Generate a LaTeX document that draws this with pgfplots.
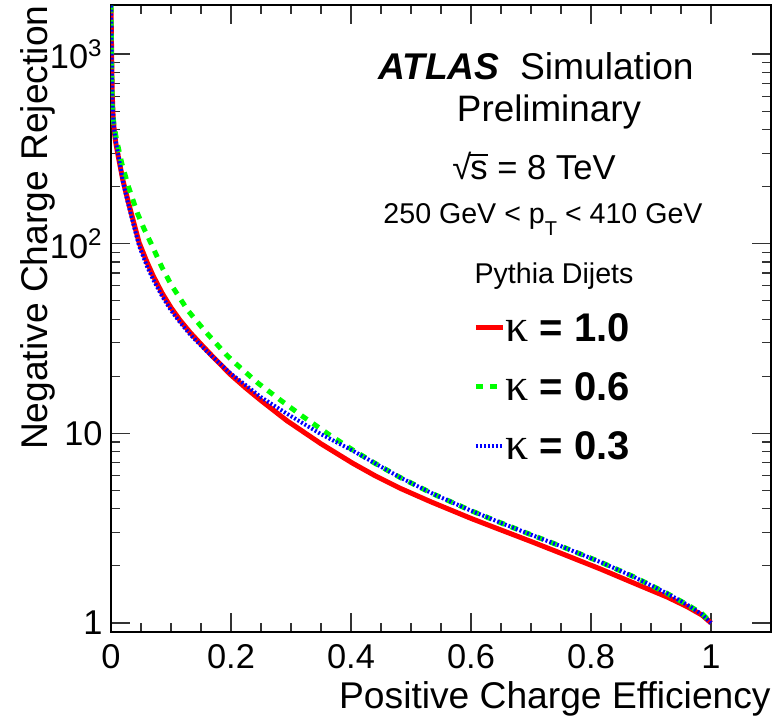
\documentclass[border=0pt]{standalone}
\usepackage{pgfplots}
\pgfplotsset{compat=1.18}
\usepackage{fontspec}
\setmainfont{Liberation Sans}
\newfontfamily\grk{Liberation Serif}
\newcommand\kap{{\fontsize{23}{24}\selectfont\grk κ}}
\begin{document}
\begin{tikzpicture}
\path[use as bounding box] (-55.5pt,-43pt) rectangle (331.5pt,316pt);
\begin{axis}[
  at={(0pt,0pt)}, anchor=south west,
  scale only axis, width=330pt, height=313.5pt,
  xmin=0, xmax=1.1, ymode=log, ymin=0.896, ymax=1815,
  xtick={0,0.2,0.4,0.6,0.8,1},
  xticklabels={0,0.2,0.4,0.6,0.8,1},
  minor x tick num=3,
  ytick={1,10,100,1000},
  yticklabels={1,10,10\textsuperscript{2},10\textsuperscript{3}},
  xtick pos=both, ytick pos=both,
  xticklabel pos=lower, yticklabel pos=left,
  tick align=inside,
  major tick length=9.5pt, minor tick length=4.5pt,
  every tick/.style={black!80, line width=0.6pt},
  axis line style={black, line width=1pt},
  /pgf/number format/assume math mode=true,
  ticklabel style={font=\fontsize{17.2}{20}\selectfont},
  xticklabel style={anchor=base, yshift=-18pt, inner sep=0pt},
  yticklabel style={anchor=east, inner sep=0pt, xshift=-4pt},
  xlabel={Positive Charge Efficiency},
  ylabel={Negative Charge Rejection},
  label style={font=\fontsize{18.6}{22}\selectfont},
  xlabel style={at={(rel axis cs:1,0)}, anchor=base east, yshift=-38pt, inner sep=0pt},
  ylabel style={at={([xshift=-31.5pt]rel axis cs:0,1)}, anchor=base east, inner sep=0pt},
  legend style={at={(rel axis cs:0.5485,0.5072)}, anchor=north west, draw=none, fill=none,
    font=\fontsize{20}{22}\selectfont, inner sep=0pt, row sep=16pt,
    nodes={inner sep=0pt, text height=13.5pt, text depth=0pt},
    /tikz/every even column/.append style={column sep=3.5pt}},
  legend cell align=left,
  legend image code/.code={\draw[#1] (0pt,0pt) -- (13.5pt,0pt);},
]
\addplot[red, line width=2.5pt] coordinates {
(0,1750) (0.001,1040) (0.002,620) (0.0035,470) (0.0055,390) (0.008,340) (0.012,290)
(0.02,215) (0.028,170) (0.035,140) (0.047,101) (0.06,80) (0.07,68) (0.085,55) (0.1,46)
(0.115,39.5) (0.132,34) (0.15,29.5) (0.17,25.3) (0.2,20.3) (0.225,17.3) (0.25,14.9)
(0.293,11.67) (0.35,8.81) (0.403,6.95) (0.44,5.98) (0.482,5.13) (0.532,4.37) (0.6,3.56)
(0.648,3.11) (0.7,2.69) (0.75,2.33) (0.815,1.93) (0.87,1.63) (0.927,1.37) (0.96,1.22)
(0.985,1.1) (1.0,1.0)
};
\addlegendentry{\kap\ \textbf{= 1.0}}
\addplot[green, line width=2.5pt, dash pattern=on 3.5pt off 3.5pt] coordinates {
(0,1800) (0.001,900) (0.002,540) (0.005,420) (0.0095,350) (0.018,265) (0.029,200)
(0.044,145) (0.055,120) (0.067,100) (0.085,75) (0.1,61) (0.128,44.5) (0.157,34.5)
(0.193,25.8) (0.21,23) (0.245,18.4) (0.282,15) (0.32,12.25) (0.365,9.77) (0.403,8.17)
(0.44,6.95) (0.482,5.85) (0.537,4.79) (0.6,3.91) (0.648,3.39) (0.7,2.92) (0.75,2.54)
(0.815,2.10) (0.87,1.76) (0.927,1.43) (0.96,1.25) (0.985,1.12) (1.0,1.0)
};
\addlegendentry{\kap\ \textbf{= 0.6}}
\addplot[blue, line width=2pt, dash pattern=on 1pt off 1pt] coordinates {
(0,1800) (0.001,1000) (0.002,600) (0.0035,470) (0.0055,395) (0.008,345) (0.012,295)
(0.02,212) (0.028,165) (0.035,135) (0.047,97) (0.06,76) (0.07,65) (0.085,53) (0.1,44.5)
(0.115,38.5) (0.132,33.2) (0.15,29) (0.17,25.2) (0.2,20.6) (0.225,17.9) (0.25,15.5)
(0.293,12.7) (0.35,9.9) (0.403,8.1) (0.44,6.95) (0.482,5.85) (0.537,4.79) (0.6,3.91)
(0.648,3.39) (0.7,2.92) (0.75,2.54) (0.815,2.10) (0.87,1.76) (0.927,1.43) (0.96,1.25)
(0.985,1.11) (1.0,1.0)
};
\addlegendentry{\kap\ \textbf{= 0.3}}
\end{axis}
\node[anchor=base, font=\fontsize{18.6}{22}\selectfont] at (212.5pt,276pt) {\textbf{\textit{ATLAS}}\hspace{0.55em}Simulation};
\node[anchor=base, font=\fontsize{18.4}{22}\selectfont] at (219pt,255pt) {Preliminary};
\node[anchor=base, font=\fontsize{17.3}{22}\selectfont] at (211.5pt,226pt) {√\kern-0.03em\rlap{\rule[0.69em]{0.52em}{0.05em}}s = 8 TeV};
\node[anchor=base, font=\fontsize{14.3}{18}\selectfont] at (216pt,204pt) {250 GeV < p\raisebox{-0.4em}{\fontsize{10}{12}\selectfont T} < 410 GeV};
\node[anchor=base, font=\fontsize{14.3}{18}\selectfont] at (221.5pt,174.5pt) {Pythia Dijets};
\end{tikzpicture}
\end{document}
